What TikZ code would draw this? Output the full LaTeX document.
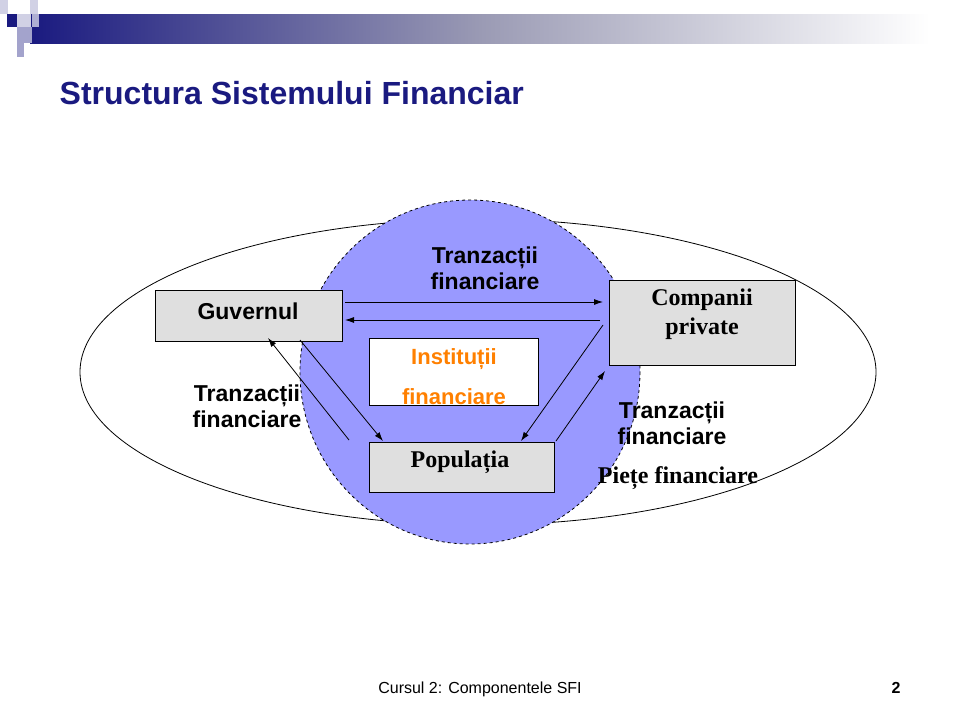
\documentclass[tikz,border=0pt]{standalone}
\usepackage{fontspec}
\setmainfont{Liberation Serif}
\setsansfont{Liberation Sans}
\usetikzlibrary{arrows.meta}
\begin{document}
\begin{tikzpicture}[x=1pt,y=-1pt,line width=0.8pt,
  lab/.style={font=\sffamily\bfseries\fontsize{23}{26}\selectfont,align=center},
  serifb/.style={font=\bfseries\fontsize{24}{29}\selectfont,align=center},
  arr/.style={-{Latex[length=9pt,width=6pt]}}]
\useasboundingbox (0,0) rectangle (960,720);
\definecolor{navy}{HTML}{1A1A80}
\definecolor{midg}{HTML}{9A9AB4}
% header
\shade[left color=navy,right color=midg] (30,14) rectangle (480,43);
\shade[left color=midg,right color=white] (479,14) rectangle (930,43);
\fill[navy] (7,14) rectangle (17,27);
\fill[navy!20] (0,0) rectangle (8,14);
\fill[navy!20] (30,0) rectangle (38,14);
\fill[navy!35] (32,14) rectangle (39,27);
\fill[navy!20] (17,14) rectangle (31,27);
\fill[navy!40] (17,27) rectangle (32,43);
\fill[navy!40] (17,43) rectangle (24,57);
\node[anchor=west,text=navy,font=\sffamily\bfseries\fontsize{32}{36}\selectfont] (title) at (56,93) {Structura Sistemului Financiar};
% shapes
\draw (478,372) ellipse [x radius=398,y radius=153];
\draw[dashed,fill=blue!40] (470,372) ellipse [x radius=170,y radius=172];
\draw[fill=gray!25] (155,290) rectangle (342,341);
\node[lab] (guv) at (248,311) {Guvernul};
\draw[fill=gray!25] (609,280) rectangle (795,365);
\node[serifb] (comp) at (702,314) {Companii\\private};
\draw[fill=white] (369,338) rectangle (538,405);
\node[text=orange,font=\sffamily\bfseries\fontsize{22}{40}\selectfont,align=center] (inst) at (454,377) {Instituții\\financiare};
\draw[fill=gray!25] (369,442) rectangle (554,492);
\node[serifb] (pop) at (460,462) {Populația};
% arrows
\coordinate (g1) at (345,302); \coordinate (c1) at (603,302);
\coordinate (c2) at (600,320); \coordinate (g2) at (345,320);
\coordinate (p1) at (349,440); \coordinate (g3) at (268,338);
\coordinate (g4) at (300,340); \coordinate (p2) at (383,441);
\coordinate (c3) at (603,325); \coordinate (p3) at (521,441);
\coordinate (p4) at (556,441); \coordinate (c4) at (605,371);
\draw[arr] (g1) -- (c1);
\draw[arr] (c2) -- (g2);
\draw[arr] (p1) -- (g3);
\draw[arr] (g4) -- (p2);
\draw[arr] (c3) -- (p3);
\draw[arr] (p4) -- (c4);
% labels
\node[lab] (l1) at (485,268) {Tranzacții\\financiare};
\node[lab] (l2) at (247,406) {Tranzacții\\financiare};
\node[lab] (l3) at (672,423) {Tranzacții\\financiare};
\node[serifb] (l4) at (678,478) {Piețe financiare};
% footer
\node[font=\sffamily\fontsize{16}{19}\selectfont] (foot) at (480,689) {Cursul 2: Componentele SFI};
\node[font=\sffamily\bfseries\fontsize{16}{19}\selectfont] (num) at (896,688) {2};
\end{tikzpicture}
\end{document}
